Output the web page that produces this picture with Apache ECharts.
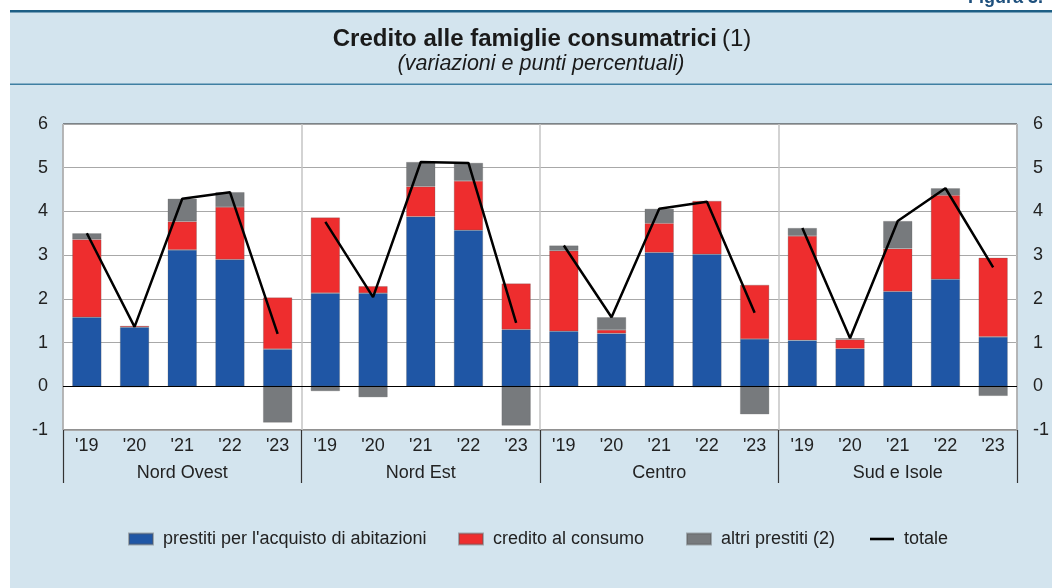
<!DOCTYPE html>
<html>
<head>
<meta charset="utf-8">
<script src="https://cdn.jsdelivr.net/npm/echarts@6/dist/echarts.min.js"></script>
<style>
html,body{margin:0;padding:0;background:#fff;}
#c{width:1052px;height:588px;}
</style>
</head>
<body>
<div id="c"></div>
<script>
const years = ["'19","'20","'21","'22","'23"];
const groups = ['Nord Ovest','Nord Est','Centro','Sud e Isole'];
const categories = [].concat(years, years, years, years);
const abitazioni = [1.58,1.35,3.12,2.90,0.85, 2.13,2.13,3.88,3.57,1.30, 1.26,1.21,3.06,3.02,1.08, 1.05,0.86,2.17,2.45,1.13];
const consumo    = [1.78,0.03,0.65,1.20,1.18, 1.73,0.16,0.69,1.13,1.05, 1.84,0.08,0.67,1.22,1.24, 2.39,0.21,0.98,1.92,1.81];
const altri      = [0.14,-0.02,0.52,0.34,-0.83, -0.11,-0.25,0.56,0.41,-0.90, 0.12,0.29,0.33,-0.02,-0.64, 0.18,0.03,0.63,0.16,-0.22];
const totale     = [3.50,1.36,4.29,4.44,1.20, 3.76,2.04,5.13,5.11,1.45, 3.22,1.58,4.06,4.22,1.68, 3.62,1.10,3.78,4.53,2.72];
const yTicks = [-1,0,1,2,3,4,5,6];

const names = ["prestiti per l'acquisto di abitazioni", 'credito al consumo', 'altri prestiti (2)', 'totale'];
const FONT = 'Liberation Sans, Arial, sans-serif';
const FS = 18;
const chart = echarts.init(document.getElementById('c'));

const barBase = {type:'bar', stack:'tot', barWidth:'61%', xAxisIndex:0, yAxisIndex:0,
  itemStyle:{borderColor:'rgba(90,90,90,0.45)', borderWidth:0.6}};
const series = [
  Object.assign({}, barBase, {name:names[0], data:abitazioni, itemStyle:Object.assign({}, barBase.itemStyle, {color:'#1f56a5'}),
    markLine:{silent:true, symbol:['none','none'], label:{show:false}, animation:false,
      lineStyle:{color:'#000', width:1.2, type:'solid'}, data:[{yAxis:0}]}}),
  Object.assign({}, barBase, {name:names[1], data:consumo, itemStyle:Object.assign({}, barBase.itemStyle, {color:'#ee2d2e'})}),
  Object.assign({}, barBase, {name:names[2], data:altri, itemStyle:Object.assign({}, barBase.itemStyle, {color:'#777a7d'})})
];
groups.forEach((g, gi) => {
  const d = categories.map((c, i) => (Math.floor(i / years.length) === gi ? totale[i] : '-'));
  series.push({type:'line', name:names[3], data:d, symbol:'none', connectNulls:false, z:5,
    lineStyle:{color:'#000', width:2.5}, itemStyle:{color:'#000'}});
});

const legendLefts = [128, 458, 686, 870];
const legends = names.map((n, i) => ({
  left:legendLefts[i], top:530, padding:0, itemWidth:24, itemHeight:11,
  data:[{name:n, icon:(i === 3 ? 'path://M0 0H24V2.6H0Z' : 'rect')}],
  textStyle:{fontSize:FS, color:'#222', fontFamily:FONT, padding:[0,0,0,5]}
}));

chart.setOption({
  animation:false,
  backgroundColor:'#fff',
  textStyle:{fontFamily:FONT},
  graphic:[
    {type:'rect', shape:{x:10, y:12, width:1042, height:576}, style:{fill:'#d3e4ee'}, z:-10},
    {type:'rect', shape:{x:10, y:10, width:1042, height:2.5}, style:{fill:'#1d5f85'}, z:-9},
    {type:'rect', shape:{x:10, y:83.5, width:1042, height:1.5}, style:{fill:'#3f7fa2'}, z:-9},
    {type:'text', x:968, y:-11, style:{text:'Figura 3.', fill:'#1d4f7c', font:'bold 18px ' + FONT}, z:-8}
  ],
  title:[
    {text:'{b|Credito alle famiglie consumatrici} {r|(1)}', left:537, top:22, textAlign:'center',
      textStyle:{rich:{b:{fontSize:24, fontWeight:'bold', color:'#1a1a1a', fontFamily:FONT},
                        r:{fontSize:24, fontWeight:'normal', color:'#1a1a1a', fontFamily:FONT}}}},
    {text:'(variazioni e punti percentuali)', left:536, top:48, textAlign:'center',
      textStyle:{fontSize:21.5, fontStyle:'italic', fontWeight:'normal', color:'#1a1a1a', fontFamily:FONT}}
  ],
  legend:legends,
  grid:{left:63, right:35, top:124, bottom:158, show:true, backgroundColor:'#fff', borderColor:'#222', borderWidth:1},
  xAxis:[
    {type:'category', data:categories, position:'bottom', axisLine:{show:false, onZero:false},
      axisTick:{show:false}, splitLine:{show:false},
      axisLabel:{interval:0, margin:7, fontSize:FS, color:'#222', fontFamily:FONT}},
    {type:'category', data:groups, position:'bottom', axisLine:{show:false, onZero:false},
      axisTick:{show:true, interval:0, length:53, lineStyle:{color:'#333', width:1.2}},
      splitLine:{show:true, interval:0, lineStyle:{color:'#c4c4c4', width:1.5}},
      axisLabel:{interval:0, margin:34, fontSize:FS, color:'#222', fontFamily:FONT}}
  ],
  yAxis:[
    {type:'value', min:yTicks[0], max:yTicks[yTicks.length-1], interval:1, position:'left',
      axisLine:{show:false}, axisTick:{show:false},
      splitLine:{show:true, lineStyle:{color:'#a8a8a8', width:1}},
      axisLabel:{margin:15, fontSize:FS, color:'#222', fontFamily:FONT}},
    {type:'value', min:yTicks[0], max:yTicks[yTicks.length-1], interval:1, position:'right',
      axisLine:{show:false}, axisTick:{show:false}, splitLine:{show:false},
      axisLabel:{margin:16, fontSize:FS, color:'#222', fontFamily:FONT}}
  ],
  series:series
});
</script>
</body>
</html>
